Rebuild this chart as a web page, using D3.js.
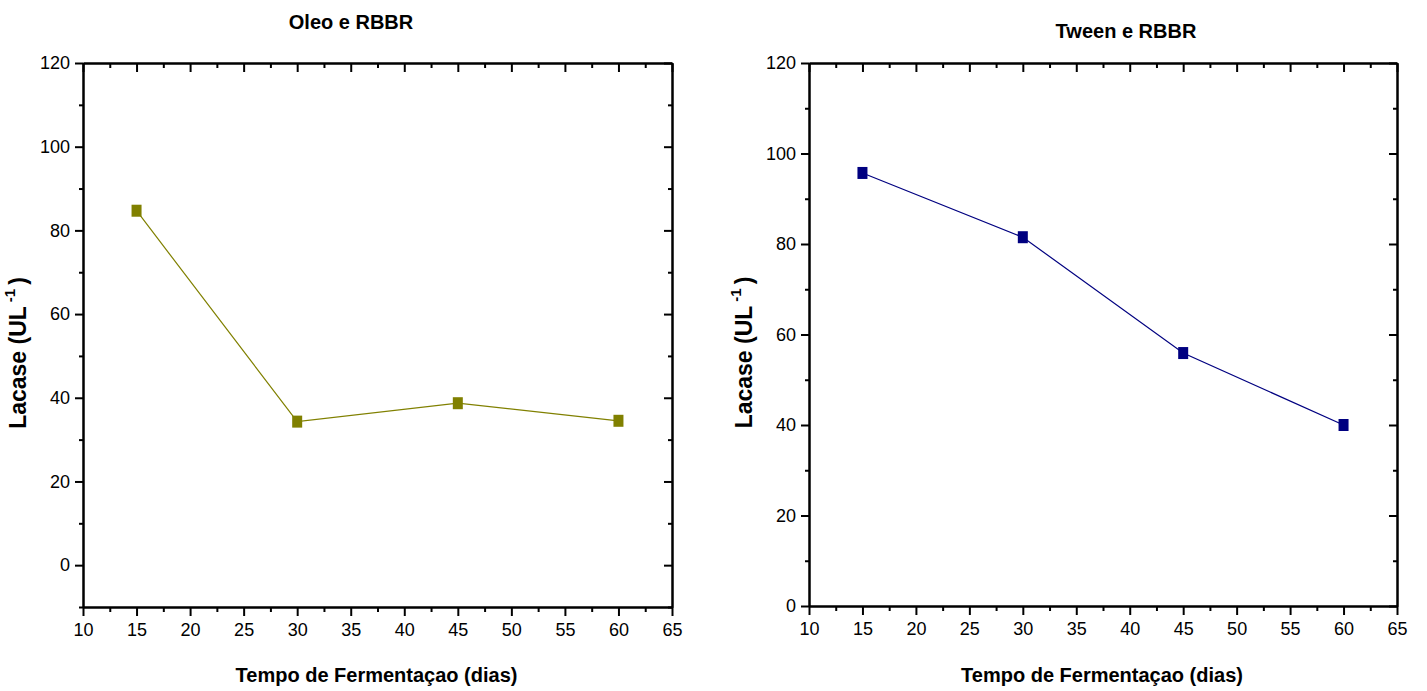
<!DOCTYPE html>
<html>
<head>
<meta charset="utf-8">
<script src="https://cdn.jsdelivr.net/npm/d3@7"></script>
<style>
  html, body { margin: 0; padding: 0; background: #fff; }
  svg { display: block; font-family: "Liberation Sans", Arial, sans-serif; }
  .axis path, .axis line { stroke: #000; stroke-width: 2; }
  .axis text { font-size: 18px; fill: #000; }
</style>
</head>
<body>
<svg id="chart" width="1427" height="691"></svg>
<script>
// Fermentation days sampled
const days = [15, 30, 45, 60];

// Laccase activity (U L-1) per treatment
const oleoValues = [84.7, 34.3, 38.7, 34.5];
const tweenValues = [95.7, 81.5, 55.9, 40.0];

// Axis tick values
const xTicks = [10, 15, 20, 25, 30, 35, 40, 45, 50, 55, 60, 65];
const oleoYTicks = [0, 20, 40, 60, 80, 100, 120];
const tweenYTicks = [0, 20, 40, 60, 80, 100, 120];

const titles = ["Oleo e RBBR", "Tween e RBBR"];
const xLabel = "Tempo de Fermentaçao (dias)";

const svg = d3.select("#chart");

function panel(cfg) {
  const { left, right, top, bottom, yDomain, yTicks, yMinor, values, color, title, titleX, titleY, yLabelX } = cfg;
  const x = d3.scaleLinear().domain([10, 65]).range([left, right]);
  const y = d3.scaleLinear().domain(yDomain).range([bottom, top]);
  const g = svg.append("g");

  const xMinor = d3.range(12.5, 65, 5);

  // bottom axis: outward ticks with labels
  g.append("g").attr("class", "axis").attr("transform", `translate(0,${bottom})`)
    .call(d3.axisBottom(x).tickValues(xTicks).tickSize(9).tickSizeOuter(0).tickPadding(7).tickFormat(d3.format("d")));
  g.append("g").attr("class", "axis").attr("transform", `translate(0,${bottom})`)
    .call(d3.axisBottom(x).tickValues(xMinor).tickSize(5).tickSizeOuter(0).tickFormat(""));

  // top axis: inward ticks, no labels
  g.append("g").attr("class", "axis").attr("transform", `translate(0,${top})`)
    .call(d3.axisBottom(x).tickValues(xTicks).tickSize(9).tickSizeOuter(0).tickFormat(""));
  g.append("g").attr("class", "axis").attr("transform", `translate(0,${top})`)
    .call(d3.axisBottom(x).tickValues(xMinor).tickSize(5).tickSizeOuter(0).tickFormat(""));

  // left axis: outward ticks with labels
  g.append("g").attr("class", "axis").attr("transform", `translate(${left},0)`)
    .call(d3.axisLeft(y).tickValues(yTicks).tickSize(8).tickSizeOuter(0).tickPadding(5).tickFormat(d3.format("d")));
  g.append("g").attr("class", "axis").attr("transform", `translate(${left},0)`)
    .call(d3.axisLeft(y).tickValues(yMinor).tickSize(4).tickSizeOuter(0).tickFormat(""));

  // right axis: inward ticks, no labels
  g.append("g").attr("class", "axis").attr("transform", `translate(${right},0)`)
    .call(d3.axisLeft(y).tickValues(yTicks).tickSize(8).tickSizeOuter(0).tickFormat(""));
  g.append("g").attr("class", "axis").attr("transform", `translate(${right},0)`)
    .call(d3.axisLeft(y).tickValues(yMinor).tickSize(4).tickSizeOuter(0).tickFormat(""));

  // series line
  const line = d3.line().x((d, i) => x(days[i])).y(d => y(d));
  g.append("path").datum(values)
    .attr("d", line).attr("fill", "none").attr("stroke", color).attr("stroke-width", 1.2);

  // square markers
  g.selectAll("rect.pt").data(values).join("rect").attr("class", "pt")
    .attr("x", (d, i) => x(days[i]) - 5).attr("y", d => y(d) - 6)
    .attr("width", 10).attr("height", 12).attr("fill", color);

  // title
  g.append("text").attr("x", titleX).attr("y", titleY)
    .attr("text-anchor", "middle").attr("font-weight", "bold").attr("font-size", 20).text(title);

  // x label
  g.append("text").attr("x", (left + right) / 2 - 1).attr("y", 682)
    .attr("text-anchor", "middle").attr("font-weight", "bold").attr("font-size", 20).text(xLabel);

  // y label with superscript
  const yl = g.append("text")
    .attr("transform", `translate(${yLabelX},${(top + bottom) / 2 + 18}) rotate(-90)`)
    .attr("text-anchor", "middle").attr("font-weight", "bold").attr("font-size", 23);
  yl.append("tspan").text("Lacase (UL");
  yl.append("tspan").attr("font-size", 15).attr("dy", -11).attr("dx", 4).text("-1");
  yl.append("tspan").attr("dy", 11).attr("dx", 4).text(")");
}

panel({
  left: 83, right: 672, top: 63, bottom: 607,
  yDomain: [-10, 120], yTicks: oleoYTicks, yMinor: d3.range(-10, 121, 10).filter(v => v % 20 !== 0),
  values: oleoValues, color: "#808000", title: titles[0], titleX: 351, titleY: 29, yLabelX: 26
});

panel({
  left: 809, right: 1397, top: 63, bottom: 606,
  yDomain: [0, 120], yTicks: tweenYTicks, yMinor: d3.range(10, 121, 20),
  values: tweenValues, color: "#000080", title: titles[1], titleX: 1126, titleY: 38, yLabelX: 752
});
</script>
</body>
</html>
